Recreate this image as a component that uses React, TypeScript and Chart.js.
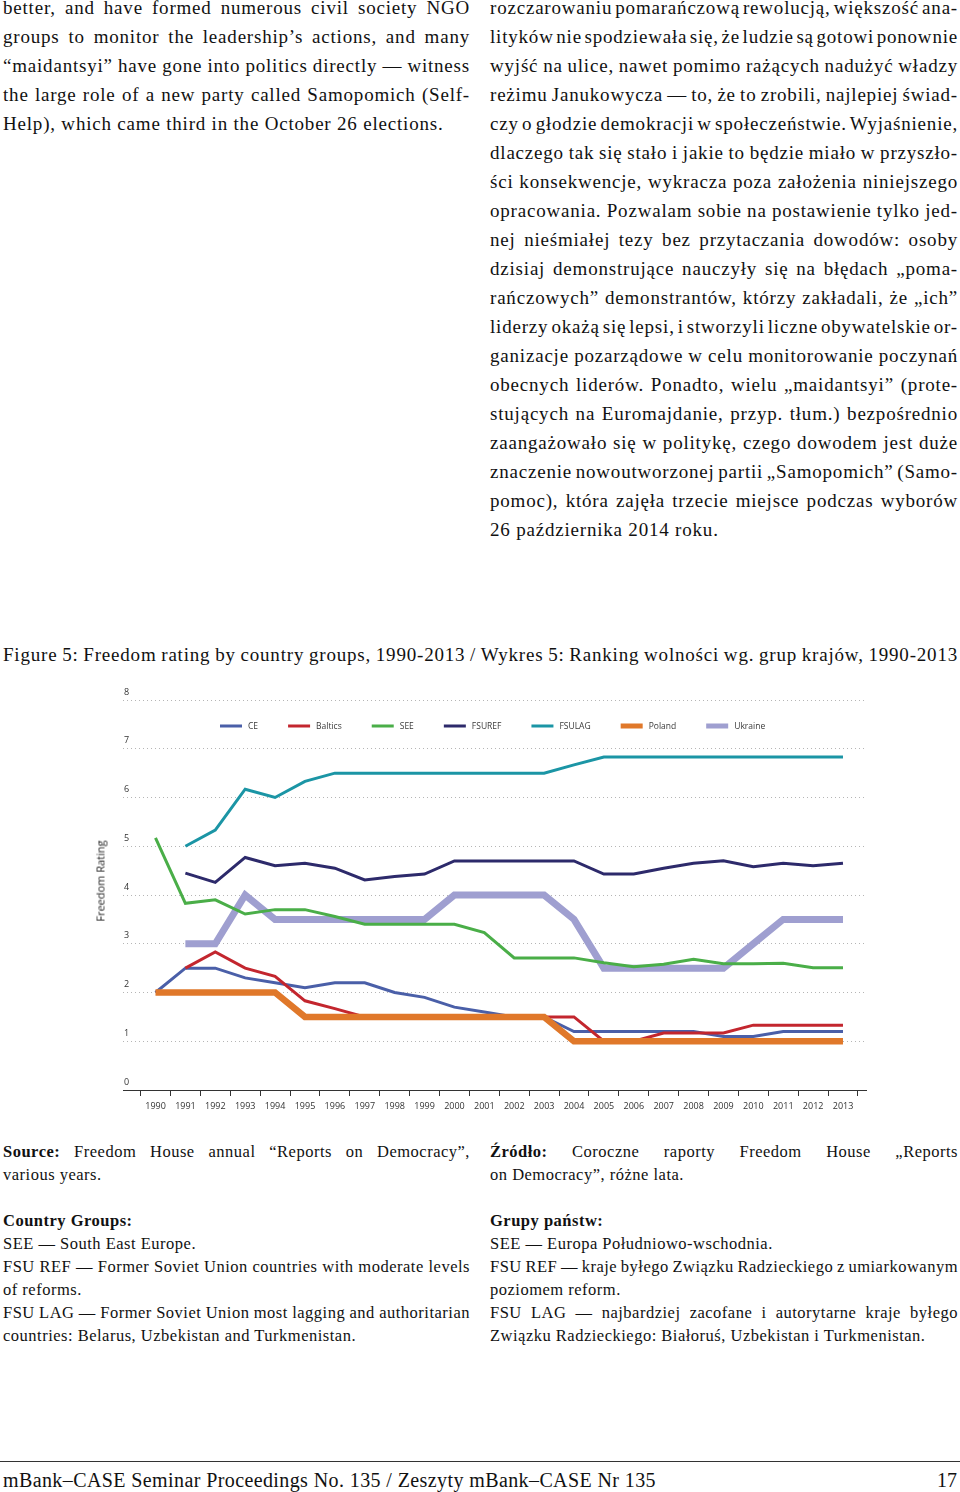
import React, { useEffect, useLayoutEffect, useRef } from 'react';
import { Chart, registerables } from 'chart.js';

Chart.register(...registerables);

// ---------------- DATA ----------------
const YEARS = [1990, 1991, 1992, 1993, 1994, 1995, 1996, 1997, 1998, 1999, 2000, 2001, 2002, 2003, 2004, 2005, 2006, 2007, 2008, 2009, 2010, 2011, 2012, 2013];

const CE = [2.0, 2.5, 2.5, 2.3, 2.2, 2.1, 2.2, 2.2, 2.0, 1.9, 1.7, 1.6, 1.5, 1.5, 1.2, 1.2, 1.2, 1.2, 1.2, 1.1, 1.1, 1.2, 1.2, 1.2];
const BALTICS = [null, 2.5, 2.83, 2.5, 2.33, 1.83, 1.67, 1.5, 1.5, 1.5, 1.5, 1.5, 1.5, 1.5, 1.5, 1.0, 1.0, 1.17, 1.17, 1.17, 1.33, 1.33, 1.33, 1.33];
const SEE = [5.17, 3.83, 3.9, 3.61, 3.7, 3.7, 3.56, 3.4, 3.4, 3.4, 3.4, 3.23, 2.71, 2.71, 2.71, 2.61, 2.53, 2.58, 2.68, 2.59, 2.59, 2.6, 2.51, 2.51];
const FSUREF = [null, 4.45, 4.26, 4.77, 4.6, 4.65, 4.55, 4.31, 4.38, 4.43, 4.7, 4.7, 4.7, 4.7, 4.7, 4.43, 4.43, 4.55, 4.65, 4.7, 4.58, 4.65, 4.6, 4.65];
const FSULAG = [null, 5.0, 5.33, 6.17, 6.0, 6.33, 6.5, 6.5, 6.5, 6.5, 6.5, 6.5, 6.5, 6.5, 6.67, 6.83, 6.83, 6.83, 6.83, 6.83, 6.83, 6.83, 6.83, 6.83];
const POLAND = [2.0, 2.0, 2.0, 2.0, 2.0, 1.5, 1.5, 1.5, 1.5, 1.5, 1.5, 1.5, 1.5, 1.5, 1.0, 1.0, 1.0, 1.0, 1.0, 1.0, 1.0, 1.0, 1.0, 1.0];
const UKRAINE = [null, 3.0, 3.0, 4.0, 3.5, 3.5, 3.5, 3.5, 3.5, 3.5, 4.0, 4.0, 4.0, 4.0, 3.5, 2.5, 2.5, 2.5, 2.5, 2.5, 3.0, 3.5, 3.5, 3.5];

const SERIES_LABELS = ['CE', 'Baltics', 'SEE', 'FSUREF', 'FSULAG', 'Poland', 'Ukraine'];
const SERIES_VALUES = [CE, BALTICS, SEE, FSUREF, FSULAG, POLAND, UKRAINE];
const SERIES_COLORS = ['#4a5fa8', '#c3262e', '#4aae48', '#2d2a6b', '#1b95a5', '#e0782a', '#9f9fd0'];
const SERIES_WIDTHS = [3, 3, 3, 3, 3, 6.5, 7];
const SERIES_ORDER = [2, 1, 3, 4, 5, 0, 6];

const Y_TICK_MIN = 0;
const Y_TICK_MAX = 8;
const Y_AXIS_TITLE = 'Freedom Rating';

// ---------------- TEXT ----------------
type Seg = { b?: string; t: string; j?: boolean };

const LEFT_TOP: Seg[] = [
  { t: 'better, and have formed numerous civil society NGO', j: true },
  { t: 'groups to monitor the leadership’s actions, and many', j: true },
  { t: '“maidantsyi” have gone into politics directly — witness', j: true },
  { t: 'the large role of a new party called Samopomich (Self-', j: true },
  { t: 'Help), which came third in the October 26 elections.' },
];

const RIGHT_TOP: Seg[] = [
  { t: 'rozczarowaniu pomarańczową rewolucją, większość ana-', j: true },
  { t: 'lityków nie spodziewała się, że ludzie są gotowi ponownie', j: true },
  { t: 'wyjść na ulice, nawet pomimo rażących nadużyć władzy', j: true },
  { t: 'reżimu Janukowycza — to, że to zrobili, najlepiej świad-', j: true },
  { t: 'czy o głodzie demokracji w społeczeństwie. Wyjaśnienie,', j: true },
  { t: 'dlaczego tak się stało i jakie to będzie miało w przyszło-', j: true },
  { t: 'ści konsekwencje, wykracza poza założenia niniejszego', j: true },
  { t: 'opracowania. Pozwalam sobie na postawienie tylko jed-', j: true },
  { t: 'nej nieśmiałej tezy bez przytaczania dowodów: osoby', j: true },
  { t: 'dzisiaj demonstrujące nauczyły się na błędach „poma-', j: true },
  { t: 'rańczowych” demonstrantów, którzy zakładali, że „ich”', j: true },
  { t: 'liderzy okażą się lepsi, i stworzyli liczne obywatelskie or-', j: true },
  { t: 'ganizacje pozarządowe w celu monitorowanie poczynań', j: true },
  { t: 'obecnych liderów. Ponadto, wielu „maidantsyi” (prote-', j: true },
  { t: 'stujących na Euromajdanie, przyp. tłum.) bezpośrednio', j: true },
  { t: 'zaangażowało się w politykę, czego dowodem jest duże', j: true },
  { t: 'znaczenie nowoutworzonej partii „Samopomich” (Samo-', j: true },
  { t: 'pomoc), która zajęła trzecie miejsce podczas wyborów', j: true },
  { t: '26 października 2014 roku.' },
];

const CAPTION = 'Figure 5: Freedom rating by country groups, 1990-2013 / Wykres 5: Ranking wolności wg. grup krajów, 1990-2013';

const LEFT_BOTTOM: (Seg | null)[] = [
  { b: 'Source:', t: ' Freedom House annual “Reports on Democracy”,', j: true },
  { t: 'various years.' },
  null,
  { b: 'Country Groups:', t: '' },
  { t: 'SEE — South East Europe.' },
  { t: 'FSU REF — Former Soviet Union countries with moderate levels', j: true },
  { t: 'of reforms.' },
  { t: 'FSU LAG — Former Soviet Union most lagging and authoritarian', j: true },
  { t: 'countries: Belarus, Uzbekistan and Turkmenistan.' },
];

const RIGHT_BOTTOM: (Seg | null)[] = [
  { b: 'Źródło:', t: ' Coroczne raporty Freedom House „Reports', j: true },
  { t: 'on Democracy”, różne lata.' },
  null,
  { b: 'Grupy państw:', t: '' },
  { t: 'SEE — Europa Południowo-wschodnia.' },
  { t: 'FSU REF — kraje byłego Związku Radzieckiego z umiarkowanym', j: true },
  { t: 'poziomem reform.' },
  { t: 'FSU LAG — najbardziej zacofane i autorytarne kraje byłego', j: true },
  { t: 'Związku Radzieckiego: Białoruś, Uzbekistan i Turkmenistan.' },
];

const FOOTER_LEFT = 'mBank–CASE Seminar Proceedings No. 135 / Zeszyty mBank–CASE Nr 135';
const FOOTER_RIGHT = '17';

const SERIF = '"Liberation Serif", "Times New Roman", serif';
const SANS = '"Open Sans", "Noto Sans", sans-serif';

function Line({ seg, lh }: { seg: Seg | null; lh: number }) {
  if (!seg) return <div style={{ height: lh }} />;
  return (
    <div
      data-j={seg.j ? '1' : undefined}
      style={{
        height: lh,
        lineHeight: lh + 'px',
        textAlign: seg.j ? 'justify' : 'left',
        textAlignLast: seg.j ? 'justify' : 'left',
        whiteSpace: 'nowrap',
        overflow: 'visible',
      } as React.CSSProperties}
    >
      <span>
        {seg.b ? <b>{seg.b}</b> : null}
        {seg.t}
      </span>
    </div>
  );
}

function Block({ segs, left, top, width, size, lh, ls }: { segs: (Seg | null)[]; left: number; top: number; width: number; size: number; lh: number; ls: number }) {
  const ref = useRef<HTMLDivElement | null>(null);
  useLayoutEffect(() => {
    const root = ref.current;
    if (!root) return;
    const fit = () => {
      root.querySelectorAll('[data-j]').forEach((el: any) => {
        const span = el.firstChild as HTMLElement;
        el.style.textAlign = 'left';
        el.style.textAlignLast = 'left';
        el.style.wordSpacing = '0px';
        const natural = span.getBoundingClientRect().width;
        const avail = el.getBoundingClientRect().width;
        const spaces = (span.textContent || '').split(' ').length - 1;
        if (natural > avail && spaces > 0) {
          el.style.wordSpacing = ((avail - natural) / spaces - 0.05) + 'px';
        }
        el.style.textAlign = 'justify';
        el.style.textAlignLast = 'justify';
      });
    };
    fit();
    if ((document as any).fonts && (document as any).fonts.ready) {
      (document as any).fonts.ready.then(fit);
    }
  }, []);
  return (
    <div ref={ref} style={{ position: 'absolute', left, top, width, fontFamily: SERIF, fontSize: size, letterSpacing: ls, color: '#111' }}>
      {segs.map((s, i) => (
        <Line key={i} seg={s} lh={lh} />
      ))}
    </div>
  );
}

const legendPlugin = {
  id: 'insideLegend',
  afterDraw(chart: any) {
    const { ctx, chartArea } = chart;
    ctx.save();
    ctx.font = `8.5px ${SANS}`;
    const swatch = 22;
    const gap = 6;
    const pad = 30;
    let x = chartArea.left + 97;
    const y = chartArea.top + 26;
    chart.data.datasets.forEach((ds: any) => {
      const h = ds.borderWidth > 4 ? 5 : 3;
      ctx.fillStyle = ds.borderColor;
      ctx.fillRect(x, y - h / 2, swatch, h);
      ctx.fillStyle = '#3a3a3a';
      ctx.textBaseline = 'middle';
      ctx.textAlign = 'left';
      ctx.fillText(ds.label, x + swatch + gap, y + 0.5);
      x += swatch + gap + ctx.measureText(ds.label).width + pad;
    });
    ctx.restore();
  },
};

function FreedomChart() {
  const ref = useRef<HTMLCanvasElement | null>(null);
  useEffect(() => {
    if (!ref.current) return;
    const datasets = SERIES_LABELS.map((label, si) => ({
      label,
      data: YEARS.map((yr, i) => ({ x: yr, y: SERIES_VALUES[si][i] })),
      borderColor: SERIES_COLORS[si],
      backgroundColor: SERIES_COLORS[si],
      borderWidth: SERIES_WIDTHS[si],
      pointRadius: 0,
      pointHoverRadius: 0,
      tension: 0,
      spanGaps: false,
      borderJoinStyle: 'miter',
      borderCapStyle: 'butt',
      order: SERIES_ORDER[si],
      fill: false,
    }));
    const first = YEARS[0];
    const last = YEARS[YEARS.length - 1];
    const chart = new Chart(ref.current, {
      type: 'line',
      data: { datasets } as any,
      plugins: [legendPlugin],
      options: {
        animation: false,
        responsive: false,
        maintainAspectRatio: false,
        events: [],
        layout: { padding: { left: 123, right: 94, top: 20, bottom: 0 } },
        plugins: { legend: { display: false }, tooltip: { enabled: false } },
        scales: {
          x: {
            type: 'linear',
            min: first - 1.087,
            max: last + 0.77,
            afterBuildTicks: (scale: any) => {
              const t = YEARS.map((y) => ({ value: y - 0.5 }));
              t.push({ value: last + 0.5 });
              scale.ticks = t;
            },
            afterFit: (scale: any) => {
              scale.height = 30;
            },
            ticks: {
              autoSkip: false,
              maxRotation: 0,
              minRotation: 0,
              labelOffset: 15,
              padding: 5,
              color: '#333',
              font: { family: SANS, size: 9 },
              callback: (v: any) => {
                const yr = Math.round(Number(v) + 0.5);
                return YEARS.includes(yr) && Math.abs(Number(v) + 0.5 - yr) < 0.01 ? String(yr) : '';
              },
            },
            grid: {
              drawOnChartArea: false,
              drawTicks: true,
              tickLength: 6,
              color: '#333',
              lineWidth: 1,
            },
            border: { display: true, color: '#333', width: 1 },
          },
          y: {
            min: Y_TICK_MIN,
            max: Y_TICK_MAX,
            afterFit: (scale: any) => {
              scale.width = 0;
            },
            ticks: {
              stepSize: 1,
              mirror: true,
              padding: 1,
              labelOffset: -8,
              color: '#333',
              font: { family: SANS, size: 9 },
            },
            grid: {
              drawTicks: false,
              color: (ctx: any) => (ctx.tick && ctx.tick.value === 0 ? 'rgba(0,0,0,0)' : '#b5b5b5'),
              lineWidth: 1,
            },
            border: { display: false, dash: [1, 3] },
          },
        },
      } as any,
    });
    return () => chart.destroy();
  }, []);
  return <canvas ref={ref} width={960} height={440} style={{ position: 'absolute', left: 0, top: 680, width: 960, height: 440 }} />;
}

export default function App() {
  return (
    <div style={{ position: 'absolute', left: 0, top: 0, width: 960, height: 1492, background: '#fff', overflow: 'hidden' }}>
      <Block segs={LEFT_TOP} left={3} top={-7} width={467} size={19} lh={29} ls={0.8} />
      <Block segs={RIGHT_TOP} left={490} top={-7} width={468} size={19} lh={29} ls={0.8} />
      <Block segs={[{ t: CAPTION, j: true }]} left={3} top={640} width={955} size={19} lh={29} ls={0.8} />
      <FreedomChart />
      <div
        style={{
          position: 'absolute',
          left: 100,
          top: 881,
          transform: 'translate(-50%, -50%) rotate(-90deg)',
          fontFamily: SANS,
          fontSize: 11,
          color: '#222',
          whiteSpace: 'nowrap',
        }}
      >
        {Y_AXIS_TITLE}
      </div>
      <Block segs={LEFT_BOTTOM} left={3} top={1140} width={467} size={16.5} lh={23} ls={0.5} />
      <Block segs={RIGHT_BOTTOM} left={490} top={1140} width={468} size={16.5} lh={23} ls={0.5} />
      <div style={{ position: 'absolute', left: 0, top: 1461, width: 960, height: 1, background: '#333' }} />
      <div style={{ position: 'absolute', left: 3, top: 1466, fontFamily: SERIF, fontSize: 20, letterSpacing: 0.4, lineHeight: '29px', color: '#111', whiteSpace: 'nowrap' }}>
        {FOOTER_LEFT}
      </div>
      <div style={{ position: 'absolute', right: 3, top: 1466, fontFamily: SERIF, fontSize: 20, lineHeight: '29px', color: '#111' }}>
        {FOOTER_RIGHT}
      </div>
    </div>
  );
}
